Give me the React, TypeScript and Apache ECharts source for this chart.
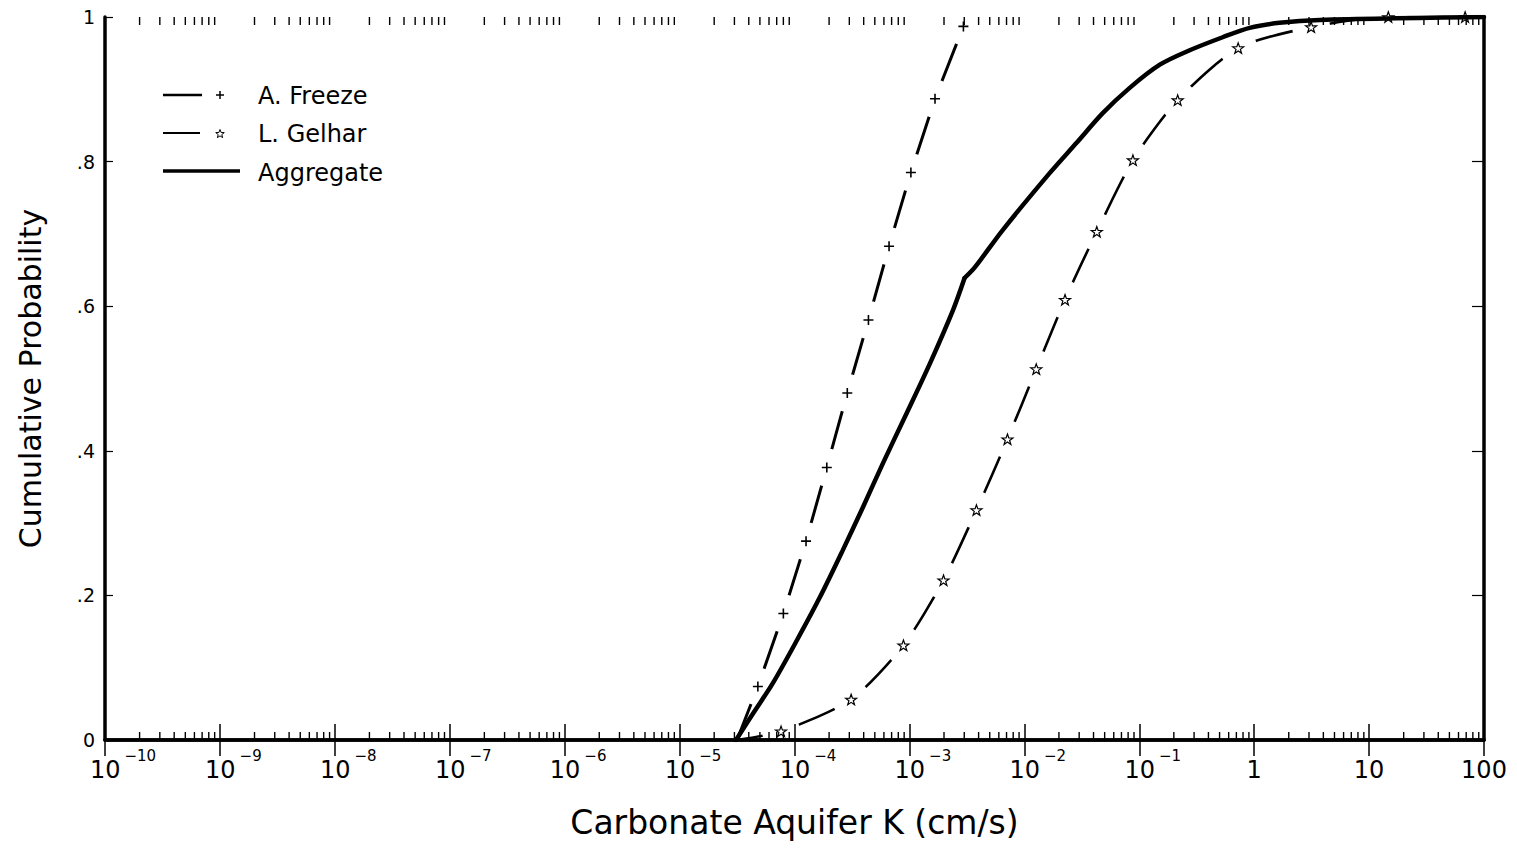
import React, { useEffect, useRef } from "react";
import * as echarts from "echarts";

// ---- Data ----
const freezeStart: [number, number] = [3.16e-5, 0];
const freezeK = [4.8e-5, 8.0e-5, 1.26e-4, 1.91e-4, 2.88e-4, 4.4e-4, 6.65e-4, 1.03e-3, 1.67e-3, 2.95e-3];
const freezeP = [0.074, 0.175, 0.275, 0.377, 0.48, 0.581, 0.683, 0.785, 0.887, 0.987];

const gelharStart: [number, number] = [3.16e-5, 0];
const gelharK = [7.64e-5, 3.11e-4, 8.87e-4, 1.98e-3, 3.83e-3, 7.13e-3, 1.27e-2, 2.26e-2, 4.27e-2, 8.81e-2, 0.216, 0.726, 3.13, 14.7, 68.5];
const gelharP = [0.012, 0.056, 0.131, 0.221, 0.318, 0.416, 0.513, 0.609, 0.703, 0.802, 0.885, 0.957, 0.986, 1, 1];

const aggregateK = [3.1e-5, 4.37e-5, 6.5e-5, 1.05e-4, 1.67e-4, 2.64e-4, 3.94e-4, 5.89e-4, 9.46e-4, 1.51e-3, 2.4e-3, 3.02e-3, 3.72e-3, 6.46e-3, 1.66e-2, 2.85e-2, 4.81e-2, 8.26e-2, 0.151, 0.275, 0.532, 0.912, 1.66, 3.72, 100];
const aggregateP = [0, 0.037, 0.079, 0.138, 0.198, 0.263, 0.322, 0.383, 0.452, 0.521, 0.595, 0.639, 0.654, 0.705, 0.784, 0.826, 0.867, 0.902, 0.934, 0.954, 0.972, 0.985, 0.992, 0.996, 1];
const aggregateKinkIndex = 11; // sharp bend of the aggregate curve

const seriesNames = ["A. Freeze", "L. Gelhar", "Aggregate"];
const yTickLabels = ["0", ".2", ".4", ".6", ".8", "1"];
const positiveDecadeLabels = ["1", "10", "100"];
const decadeExponents = [-10, -9, -8, -7, -6, -5, -4, -3, -2, -1, 0, 1];
const minorFactors = [2, 3, 4, 5, 6, 7, 8, 9];

const FONT = "DejaVu Sans";

const plusPath = "path://M0 5L10 5M5 0L5 10";
const starPath =
  "path://M10 0L12.35 6.76L19.51 6.91L13.8 11.24L15.88 18.09L10 14L4.12 18.09L6.2 11.24L0.49 6.91L7.65 6.76Z";

function starPoints(cx: number, cy: number, R: number, r: number) {
  const pts: number[][] = [];
  for (let k = 0; k < 10; k++) {
    const a = ((-90 + k * 36) * Math.PI) / 180;
    const rad = k % 2 === 0 ? R : r;
    pts.push([cx + rad * Math.cos(a), cy + rad * Math.sin(a)]);
  }
  return pts;
}

export default function App() {
  const ref = useRef<HTMLDivElement>(null);

  useEffect(() => {
    if (!ref.current) return;
    const chart = echarts.init(ref.current, null, { renderer: "svg" });

    const freezeMarkers = freezeK.map((k, i) => [k, freezeP[i]]);
    const gelharMarkers = gelharK.map((k, i) => [k, gelharP[i]]);
    const freezeLine = [freezeStart, ...freezeMarkers];
    const gelharLine = [gelharStart, ...gelharMarkers];
    const aggregateLine = aggregateK.map((k, i) => [k, aggregateP[i]]);
    const aggregateLower = aggregateLine.slice(0, aggregateKinkIndex + 1);
    const aggregateUpper = aggregateLine.slice(aggregateKinkIndex);
    const minorTicks: number[][] = [];
    decadeExponents.forEach((e) => {
      minorFactors.forEach((f) => minorTicks.push([f * Math.pow(10, e), 0]));
    });

    const xLabelFormatter = (v: number) => {
      const e = Math.round(Math.log10(v));
      if (e >= 0) return "{n|" + positiveDecadeLabels[e] + "}";
      const style = Math.abs(e) >= 10 ? "b2" : "b1";
      return "{" + style + "|10}{s|\u2212" + Math.abs(e) + "}";
    };

    const axisLineStyle = { color: "#000", width: 3.5 };

    const option: any = {
      animation: false,
      backgroundColor: "#fff",
      textStyle: { fontFamily: FONT, color: "#000" },
      grid: { left: 105, right: 33, top: 17, bottom: 109, containLabel: false },
      xAxis: [
        {
          type: "log",
          logBase: 10,
          min: 1e-10,
          max: 100,
          splitNumber: 12,
          interval: 1,
          position: "bottom",
          z: 10,
          axisLine: { lineStyle: axisLineStyle },
          axisTick: { inside: true, length: 16, lineStyle: { color: "#000", width: 1.5 } },
          splitLine: { show: false },
          axisLabel: {
            margin: 8,
            color: "#000",
            formatter: xLabelFormatter,
            rich: {
              n: { fontFamily: FONT, fontSize: 24, padding: [10, 0, 0, 0], color: "#000" },
              b1: { fontFamily: FONT, fontSize: 24, padding: [10, 0, 0, 27], color: "#000" },
              b2: { fontFamily: FONT, fontSize: 24, padding: [10, 0, 0, 36], color: "#000" },
              s: { fontFamily: FONT, fontSize: 15, verticalAlign: "top", padding: [0, 0, 0, 4], color: "#000" },
            },
          },
          name: "Carbonate Aquifer K (cm/s)",
          nameLocation: "middle",
          nameGap: 66,
          nameTextStyle: { fontFamily: FONT, fontSize: 33, color: "#000" },
        },
        {
          type: "log",
          logBase: 10,
          min: 1e-10,
          max: 100,
          splitNumber: 12,
          interval: 1,
          position: "top",
          z: 10,
          axisLine: { lineStyle: axisLineStyle },
          axisTick: { inside: true, length: 16, lineStyle: { color: "#000", width: 1.5 } },
          axisLabel: { show: false },
          splitLine: { show: false },
        },
      ],
      yAxis: [
        {
          type: "value",
          min: 0,
          max: 1,
          interval: 0.2,
          position: "left",
          z: 10,
          axisLine: { show: true, lineStyle: axisLineStyle },
          axisTick: { show: true, inside: true, length: 8, lineStyle: { color: "#000", width: 1.2 } },
          splitLine: { show: false },
          axisLabel: {
            margin: 10,
            color: "#000",
            fontFamily: FONT,
            fontSize: 19,
            formatter: (v: number) => yTickLabels[Math.round(v / 0.2)],
          },
          name: "Cumulative Probability",
          nameLocation: "middle",
          nameRotate: 90,
          nameGap: 60,
          nameTextStyle: { fontFamily: FONT, fontSize: 30, color: "#000" },
        },
        {
          type: "value",
          min: 0,
          max: 1,
          interval: 0.2,
          position: "right",
          z: 10,
          axisLine: { show: true, lineStyle: axisLineStyle },
          axisTick: { show: true, inside: true, length: 12, lineStyle: { color: "#000", width: 1.2 } },
          axisLabel: { show: false },
          splitLine: { show: false },
        },
      ],
      series: [
        {
          name: seriesNames[0],
          type: "line",
          data: freezeLine,
          symbol: "none",
          z: 2,
          lineStyle: { color: "#000", width: 3 },
        },
        {
          name: seriesNames[1],
          type: "line",
          data: gelharLine,
          symbol: "none",
          smooth: 0.25,
          z: 2,
          lineStyle: { color: "#000", width: 2.6 },
        },
        {
          name: "halo",
          type: "scatter",
          data: [...freezeMarkers, ...gelharMarkers],
          symbol: "circle",
          symbolSize: 38,
          silent: true,
          z: 3,
          itemStyle: { color: "#ffffff", opacity: 1 },
        },
        {
          name: seriesNames[0] + " markers",
          type: "scatter",
          data: freezeMarkers,
          symbol: plusPath,
          symbolSize: 10,
          z: 4,
          itemStyle: { color: "#000", borderColor: "#000", borderWidth: 1.6, opacity: 1 },
        },
        {
          name: seriesNames[1] + " markers",
          type: "scatter",
          data: gelharMarkers,
          symbol: starPath,
          symbolSize: 11,
          symbolKeepAspect: true,
          z: 4,
          itemStyle: { color: "#fff", borderColor: "#000", borderWidth: 1.2, opacity: 1 },
        },
        {
          name: seriesNames[2],
          type: "line",
          data: aggregateLower,
          symbol: "none",
          smooth: 0.3,
          z: 5,
          lineStyle: { color: "#000", width: 4.5, cap: "round", join: "round" },
        },
        {
          name: seriesNames[2],
          type: "line",
          data: aggregateUpper,
          symbol: "none",
          smooth: 0.3,
          z: 5,
          lineStyle: { color: "#000", width: 4.5, cap: "round", join: "round" },
        },
        {
          name: "minor ticks",
          type: "custom",
          data: minorTicks,
          encode: { x: 0, y: 1 },
          z: 11,
          silent: true,
          clip: false,
          renderItem: (params: any, api: any) => {
            const v = api.value(0);
            const b = api.coord([v, 0]);
            const t = api.coord([v, 1]);
            return {
              type: "group",
              children: [
                { type: "line", shape: { x1: b[0], y1: b[1], x2: b[0], y2: b[1] - 8 }, style: { stroke: "#000", lineWidth: 1.4 } },
                { type: "line", shape: { x1: t[0], y1: t[1], x2: t[0], y2: t[1] + 8 }, style: { stroke: "#000", lineWidth: 1.4 } },
              ],
            };
          },
        },
      ],
      graphic: [
        { type: "line", shape: { x1: 163, y1: 95, x2: 202, y2: 95 }, style: { stroke: "#000", lineWidth: 2.5 } },
        { type: "line", shape: { x1: 216, y1: 95, x2: 224, y2: 95 }, style: { stroke: "#000", lineWidth: 1.5 } },
        { type: "line", shape: { x1: 220, y1: 91, x2: 220, y2: 99 }, style: { stroke: "#000", lineWidth: 1.5 } },
        { type: "text", x: 258, y: 96, style: { text: seriesNames[0], fontFamily: FONT, fontSize: 24, fill: "#000", verticalAlign: "middle", align: "left" } },
        { type: "line", shape: { x1: 163, y1: 133, x2: 200, y2: 133 }, style: { stroke: "#000", lineWidth: 2 } },
        { type: "polygon", shape: { points: starPoints(220, 134, 4.5, 1.9) }, style: { fill: "#fff", stroke: "#000", lineWidth: 1 } },
        { type: "text", x: 258, y: 134, style: { text: seriesNames[1], fontFamily: FONT, fontSize: 24, fill: "#000", verticalAlign: "middle", align: "left" } },
        { type: "line", shape: { x1: 163, y1: 171, x2: 240, y2: 171 }, style: { stroke: "#000", lineWidth: 3.5 } },
        { type: "text", x: 258, y: 173, style: { text: seriesNames[2], fontFamily: FONT, fontSize: 24, fill: "#000", verticalAlign: "middle", align: "left" } },
      ],
    };

    chart.setOption(option);
    return () => chart.dispose();
  }, []);

  return (
    <div
      ref={ref}
      style={{ position: "absolute", left: 0, top: 0, width: 1517, height: 849, background: "#fff" }}
    />
  );
}
